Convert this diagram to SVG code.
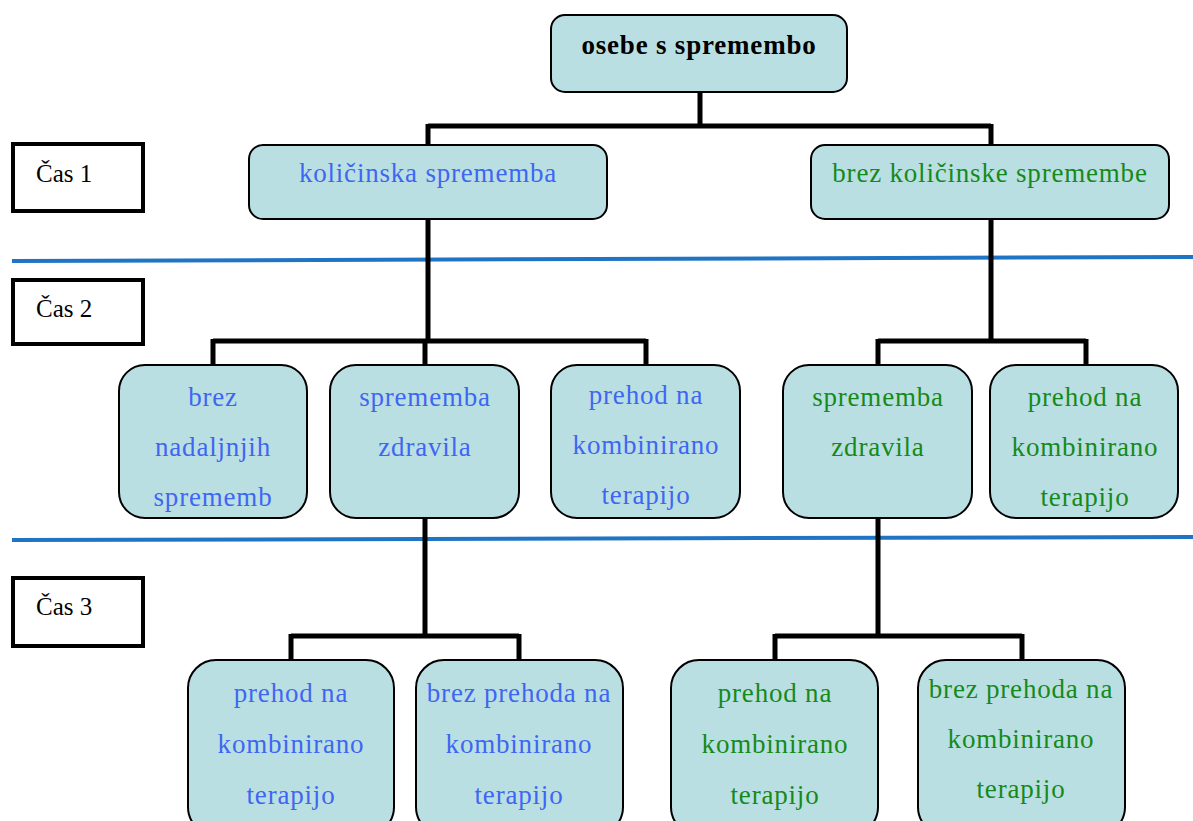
<svg xmlns="http://www.w3.org/2000/svg" width="1193" height="821" viewBox="0 0 1193 821">
  <style>
    .node { fill: #badfe2; stroke: #000; stroke-width: 2; }
    .lbl { font-family: "Liberation Serif", Tinos, "Times New Roman", "DejaVu Serif", serif; font-size: 27px; letter-spacing: 0.8px; text-anchor: middle; }
    .blue { fill: #3f66f2; }
    .green { fill: #158a1a; }
    .time rect { fill: #fff; stroke: #000; stroke-width: 4; }
    .time text { font-family: "Liberation Serif", Tinos, "Times New Roman", "DejaVu Serif", serif; font-size: 25px; fill: #000; }
    .conn { fill: none; stroke: #000; stroke-width: 5; }
    .sep { stroke: #1f74c4; stroke-width: 4; }
  </style>

  <!-- separators between time periods -->
  <g id="separators">
    <line class="sep" x1="12" y1="261" x2="1193" y2="257"/>
    <line class="sep" x1="12" y1="540" x2="1193" y2="537"/>
  </g>

  <!-- time labels -->
  <g id="cas1" class="time"><rect x="13" y="144" width="130" height="67"/><text x="36" y="182">Čas 1</text></g>
  <g id="cas2" class="time"><rect x="13" y="280" width="130" height="64"/><text x="36" y="317">Čas 2</text></g>
  <g id="cas3" class="time"><rect x="13" y="578" width="130" height="68"/><text x="36" y="615">Čas 3</text></g>

  <!-- tree connectors -->
  <g id="connectors" class="conn">
    <path d="M700 91 V126 M428 126 H991 M428 124 V146 M991 124 V146"/>
    <path d="M428 219 V341 M213 341 H646 M213 339 V366 M425 339 V366 M646 339 V366"/>
    <path d="M991 219 V341 M878 341 H1086 M878 339 V366 M1086 339 V366"/>
    <path d="M425 518 V636 M291 636 H519 M291 634 V661 M519 634 V661"/>
    <path d="M878 518 V636 M775 636 H1022 M775 634 V661 M1022 634 V661"/>
  </g>

  <!-- root -->
  <g id="root">
    <rect class="node" x="551" y="15" width="296" height="77" rx="14"/>
    <text class="lbl" x="699" y="54" font-weight="bold" letter-spacing="1.3" fill="#000">osebe s spremembo</text>
  </g>

  <!-- Čas 1 -->
  <g id="kolicinska">
    <rect class="node" x="249" y="145" width="358" height="74" rx="14"/>
    <text class="lbl blue" x="428" y="182">količinska sprememba</text>
  </g>
  <g id="brez-kolicinske">
    <rect class="node" x="811" y="145" width="358" height="74" rx="14"/>
    <text class="lbl green" x="990" y="182">brez količinske spremembe</text>
  </g>

  <!-- Čas 2 -->
  <g id="brez-nadaljnjih">
    <rect class="node" x="119" y="365" width="188" height="153" rx="26"/>
    <text class="lbl blue" x="213" y="406">brez</text>
    <text class="lbl blue" x="213" y="456">nadaljnjih</text>
    <text class="lbl blue" x="213" y="506">sprememb</text>
  </g>
  <g id="sprememba-zdravila-1">
    <rect class="node" x="330" y="365" width="189" height="153" rx="26"/>
    <text class="lbl blue" x="425" y="406">sprememba</text>
    <text class="lbl blue" x="425" y="456">zdravila</text>
  </g>
  <g id="prehod-1">
    <rect class="node" x="551" y="365" width="189" height="153" rx="26"/>
    <text class="lbl blue" x="646" y="404">prehod na</text>
    <text class="lbl blue" x="646" y="454">kombinirano</text>
    <text class="lbl blue" x="646" y="504">terapijo</text>
  </g>
  <g id="sprememba-zdravila-2">
    <rect class="node" x="783" y="365" width="189" height="153" rx="26"/>
    <text class="lbl green" x="878" y="406">sprememba</text>
    <text class="lbl green" x="878" y="456">zdravila</text>
  </g>
  <g id="prehod-2">
    <rect class="node" x="990" y="365" width="188" height="153" rx="26"/>
    <text class="lbl green" x="1085" y="406">prehod na</text>
    <text class="lbl green" x="1085" y="456">kombinirano</text>
    <text class="lbl green" x="1085" y="506">terapijo</text>
  </g>

  <!-- Čas 3 -->
  <g id="prehod-3a">
    <rect class="node" x="188" y="660" width="206" height="175" rx="28"/>
    <text class="lbl blue" x="291" y="702">prehod na</text>
    <text class="lbl blue" x="291" y="753">kombinirano</text>
    <text class="lbl blue" x="291" y="804">terapijo</text>
  </g>
  <g id="brez-prehoda-3a">
    <rect class="node" x="416" y="660" width="207" height="175" rx="28"/>
    <text class="lbl blue" x="519" y="702">brez prehoda na</text>
    <text class="lbl blue" x="519" y="753">kombinirano</text>
    <text class="lbl blue" x="519" y="804">terapijo</text>
  </g>
  <g id="prehod-3b">
    <rect class="node" x="671" y="660" width="207" height="175" rx="28"/>
    <text class="lbl green" x="775" y="702">prehod na</text>
    <text class="lbl green" x="775" y="753">kombinirano</text>
    <text class="lbl green" x="775" y="804">terapijo</text>
  </g>
  <g id="brez-prehoda-3b">
    <rect class="node" x="918" y="660" width="207" height="175" rx="28"/>
    <text class="lbl green" x="1021" y="698">brez prehoda na</text>
    <text class="lbl green" x="1021" y="748">kombinirano</text>
    <text class="lbl green" x="1021" y="798">terapijo</text>
  </g>
</svg>
